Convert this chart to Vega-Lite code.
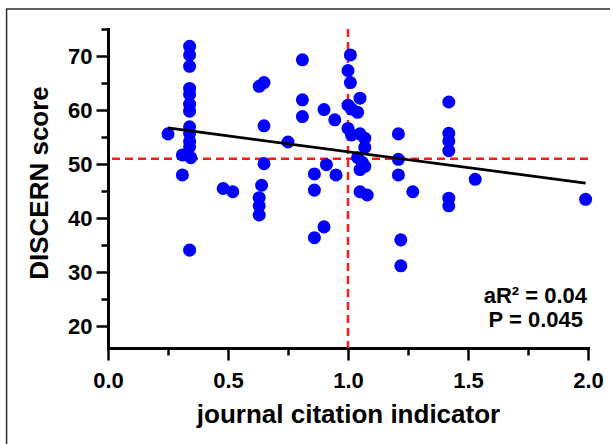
{
  "$schema": "https://vega.github.io/schema/vega-lite/v6.json",
  "width": 480,
  "height": 319,
  "autosize": "none",
  "padding": {"left": 108, "top": 29, "right": 22, "bottom": 96},
  "background": "white",
  "data": {"values": [{}]},
  "datasets": {
    "pts": [
      {"x": 0.25, "y": 55.6}, {"x": 0.34, "y": 71.8}, {"x": 0.34, "y": 70.2}, {"x": 0.34, "y": 68.1},
      {"x": 0.34, "y": 64.0}, {"x": 0.34, "y": 62.9}, {"x": 0.34, "y": 61.1}, {"x": 0.34, "y": 59.8},
      {"x": 0.34, "y": 56.9}, {"x": 0.34, "y": 55.7}, {"x": 0.34, "y": 54.2}, {"x": 0.34, "y": 53.2},
      {"x": 0.31, "y": 51.7}, {"x": 0.345, "y": 51.2}, {"x": 0.31, "y": 48.0}, {"x": 0.34, "y": 34.1},
      {"x": 0.48, "y": 45.5}, {"x": 0.52, "y": 44.9}, {"x": 0.63, "y": 64.4}, {"x": 0.65, "y": 65.1},
      {"x": 0.65, "y": 57.1}, {"x": 0.65, "y": 50.1}, {"x": 0.64, "y": 46.1}, {"x": 0.63, "y": 43.8},
      {"x": 0.63, "y": 42.3}, {"x": 0.63, "y": 40.6}, {"x": 0.75, "y": 54.1}, {"x": 0.81, "y": 69.3},
      {"x": 0.81, "y": 61.9}, {"x": 0.81, "y": 58.8}, {"x": 0.90, "y": 60.1}, {"x": 0.945, "y": 58.2},
      {"x": 0.91, "y": 49.9}, {"x": 0.86, "y": 48.2}, {"x": 0.95, "y": 48.0}, {"x": 0.86, "y": 45.2},
      {"x": 0.90, "y": 38.4}, {"x": 0.86, "y": 36.4}, {"x": 1.01, "y": 70.2}, {"x": 1.0, "y": 67.3},
      {"x": 1.01, "y": 65.1}, {"x": 1.05, "y": 62.2}, {"x": 1.0, "y": 60.9}, {"x": 1.015, "y": 60.2},
      {"x": 1.04, "y": 59.6}, {"x": 1.0, "y": 56.6}, {"x": 1.015, "y": 55.4}, {"x": 1.05, "y": 55.6},
      {"x": 1.07, "y": 54.8}, {"x": 1.07, "y": 53.1}, {"x": 1.04, "y": 51.2}, {"x": 1.06, "y": 50.3},
      {"x": 1.07, "y": 49.6}, {"x": 1.05, "y": 49.0}, {"x": 1.05, "y": 44.9}, {"x": 1.08, "y": 44.3},
      {"x": 1.21, "y": 55.6}, {"x": 1.21, "y": 50.9}, {"x": 1.21, "y": 48.0}, {"x": 1.22, "y": 36.0},
      {"x": 1.22, "y": 31.2}, {"x": 1.27, "y": 44.9}, {"x": 1.42, "y": 61.5}, {"x": 1.42, "y": 55.7},
      {"x": 1.42, "y": 54.3}, {"x": 1.42, "y": 52.5}, {"x": 1.42, "y": 43.7}, {"x": 1.42, "y": 42.3},
      {"x": 1.53, "y": 47.2}, {"x": 1.99, "y": 43.5}
    ],
    "fit": [
      {"x": 0.25, "y": 56.7},
      {"x": 1.99, "y": 46.5}
    ]
  },
  "layer": [
    {
      "mark": {"type": "rule", "color": "#ff1a1a", "strokeWidth": 2.5, "strokeDash": [8, 5]},
      "encoding": {
        "x": {"datum": 1, "type": "quantitative", "axis": null, "scale": {"domain": [0, 2], "nice": false, "zero": false}}
      }
    },
    {
      "mark": {"type": "rule", "color": "#ff1a1a", "strokeWidth": 2.5, "strokeDash": [8, 5]},
      "encoding": {
        "y": {"datum": 51, "type": "quantitative", "axis": null, "scale": {"domain": [16, 75], "nice": false, "zero": false}}
      }
    },
    {
      "data": {"name": "pts"},
      "mark": {"type": "circle", "color": "#0000ff", "opacity": 1, "size": 170},
      "encoding": {
        "x": {
          "field": "x", "type": "quantitative",
          "scale": {"domain": [0, 2], "nice": false, "zero": false},
          "axis": {"orient": "bottom", "values": [0, 0.5, 1, 1.5, 2], "format": ".1f", "title": "journal citation indicator",
                   "tickSize": 12, "labelPadding": 10, "titleY": 74, "titleBaseline": "alphabetic", "labelFlush": false}
        },
        "y": {
          "field": "y", "type": "quantitative",
          "scale": {"domain": [16, 75], "nice": false, "zero": false},
          "axis": {"orient": "left", "values": [20, 30, 40, 50, 60, 70], "title": "DISCERN score",
                   "tickSize": 12, "labelPadding": 4, "titleX": -61, "titleY": 153.5, "titleBaseline": "alphabetic", "labelFlush": false}
        }
      }
    },
    {
      "data": {"name": "fit"},
      "mark": {"type": "line", "color": "black", "strokeWidth": 2.8},
      "encoding": {
        "x": {
          "field": "x", "type": "quantitative",
          "scale": {"domain": [0, 2], "nice": false, "zero": false},
          "axis": {"orient": "bottom", "values": [0.25, 0.75, 1.25, 1.75], "labels": false, "domain": false, "title": null, "tickSize": 7}
        },
        "y": {
          "field": "y", "type": "quantitative",
          "scale": {"domain": [16, 75], "nice": false, "zero": false},
          "axis": {"orient": "left", "values": [25, 35, 45, 55, 65, 75], "labels": false, "domain": false, "title": null, "tickSize": 7}
        }
      }
    },
    {
      "mark": {"type": "text", "text": "aR² = 0.04", "align": "right", "baseline": "alphabetic", "font": "Liberation Sans", "fontWeight": "bold", "fontSize": 22, "color": "black", "dx": -1},
      "encoding": {
        "x": {"datum": 2, "type": "quantitative", "axis": null, "scale": {"domain": [0, 2], "nice": false, "zero": false}},
        "y": {"datum": 24.3, "type": "quantitative", "axis": null, "scale": {"domain": [16, 75], "nice": false, "zero": false}}
      }
    },
    {
      "mark": {"type": "text", "text": "P = 0.045", "align": "right", "baseline": "alphabetic", "font": "Liberation Sans", "fontWeight": "bold", "fontSize": 22, "color": "black", "dx": -5},
      "encoding": {
        "x": {"datum": 2, "type": "quantitative", "axis": null, "scale": {"domain": [0, 2], "nice": false, "zero": false}},
        "y": {"datum": 19.8, "type": "quantitative", "axis": null, "scale": {"domain": [16, 75], "nice": false, "zero": false}}
      }
    },
    {
      "mark": {"type": "rect", "fill": null, "fillOpacity": 0, "stroke": "#2a2a2a", "strokeWidth": 1.5, "clip": false},
      "encoding": {
        "x": {"datum": -0.4226, "type": "quantitative", "axis": null, "scale": {"domain": [0, 2], "nice": false, "zero": false}},
        "x2": {"datum": 2.3},
        "y": {"datum": 78.7, "type": "quantitative", "axis": null, "scale": {"domain": [16, 75], "nice": false, "zero": false}},
        "y2": {"datum": -5}
      }
    }
  ],
  "resolve": {"axis": {"x": "independent", "y": "independent"}},
  "config": {
    "view": {"stroke": null},
    "axis": {
      "grid": false,
      "domainColor": "black",
      "domainWidth": 3,
      "domainCap": "square",
      "tickColor": "black",
      "tickWidth": 2.5,
      "labelFont": "Liberation Sans",
      "labelFontWeight": "bold",
      "labelFontSize": 22,
      "labelColor": "black",
      "titleFont": "Liberation Sans",
      "titleFontWeight": "bold",
      "titleFontSize": 26,
      "titleColor": "black"
    }
  }
}
